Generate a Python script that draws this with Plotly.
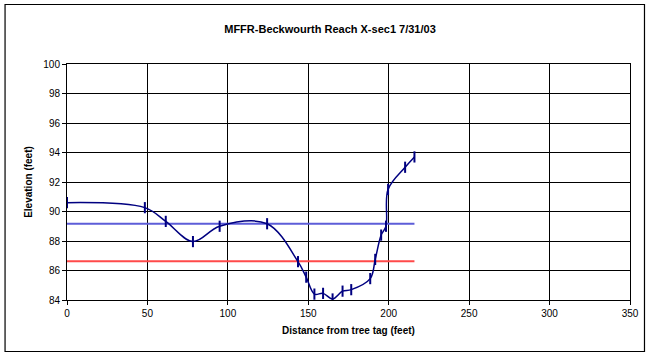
import plotly.graph_objects as go

# Cross-section survey points
distance = [0, 48.4, 61.4, 78.3, 94.9, 124.4, 143.6, 148.7, 153.8, 159.2, 165.1,
            171.3, 176.7, 188.5, 191.6, 195.3, 198.3, 199.6, 210.2, 216.0]
elevation = [90.6, 90.26, 89.33, 87.96, 89.0, 89.17, 86.6, 85.55, 84.4, 84.45, 84.07,
             84.6, 84.7, 85.45, 86.75, 88.4, 89.0, 91.5, 93.0, 93.7]

# Reference water levels
level_x = [0, 216]
blue_level = [89.17, 89.17]
red_level = [86.63, 86.63]

title_text = "MFFR-Beckwourth Reach X-sec1 7/31/03"
x_title = "Distance from tree tag (feet)"
y_title = "Elevation (feet)"

FONT = "Liberation Sans, Arial, sans-serif"

fig = go.Figure()
fig.add_trace(go.Scatter(x=level_x, y=blue_level, mode="lines",
                         line=dict(color="#5D5DD8", width=2), showlegend=False, hoverinfo="skip"))
fig.add_trace(go.Scatter(x=level_x, y=red_level, mode="lines",
                         line=dict(color="#FF4A4A", width=2), showlegend=False, hoverinfo="skip"))
fig.add_trace(go.Scatter(x=distance, y=elevation, mode="lines+markers",
                         line=dict(color="#000080", width=1.5, shape="spline", smoothing=1.0),
                         marker=dict(symbol="line-ns", size=8, line=dict(color="#000080", width=2)),
                         showlegend=False))

L, R, T, B = 66.5, 20, 64, 56
W, H = 650, 356
pw = W - L - R
ph = H - T - B

def px_to_paper_x(px):
    return (px - L) / pw

def px_to_paper_y(py):
    return (H - B - py) / ph

fig.add_shape(type="rect", xref="paper", yref="paper",
              x0=px_to_paper_x(4.5), x1=px_to_paper_x(644.5),
              y0=px_to_paper_y(351.5), y1=px_to_paper_y(4.5),
              line=dict(color="black", width=1.2), layer="below")

fig.update_layout(
    width=W, height=H,
    margin=dict(l=L, r=R, t=T, b=B, autoexpand=False),
    paper_bgcolor="white", plot_bgcolor="white",
    font=dict(family=FONT, size=10, color="black"),
    title=dict(text="<b>" + title_text + "</b>", x=330 / W, xref="container",
               y=1 - 29 / H, yref="container", xanchor="center", yanchor="middle",
               font=dict(family=FONT, size=11, color="black")),
    xaxis=dict(range=[0, 350], dtick=50, tick0=0, showgrid=True, gridcolor="black", gridwidth=1,
               showline=True, linecolor="black", linewidth=1, mirror=True,
               ticks="outside", ticklen=4, tickcolor="black", zeroline=False,
               title=dict(text="<b>" + x_title + "</b>", standoff=8,
                          font=dict(family=FONT, size=10))),
    yaxis=dict(range=[84, 100], dtick=2, tick0=84, showgrid=True, gridcolor="black", gridwidth=1,
               showline=True, linecolor="black", linewidth=1, mirror=True,
               ticks="outside", ticklen=4, tickcolor="black", zeroline=False,
               title=dict(text="<b>" + y_title + "</b>", standoff=8,
                          font=dict(family=FONT, size=10))),
)

fig.write_html("out.html", config={"displayModeBar": False},
               post_script="document.body.style.margin='0';document.body.style.overflow='hidden';")
